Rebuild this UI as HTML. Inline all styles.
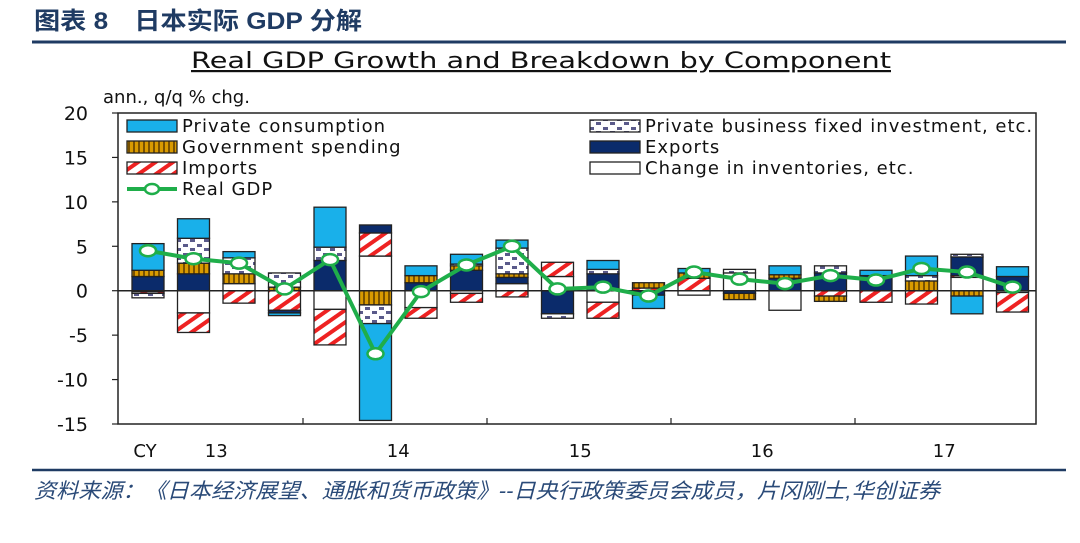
<!DOCTYPE html>
<html><head><meta charset="utf-8"><style>
body{margin:0;background:#fff;width:1080px;height:538px;overflow:hidden;font-family:"Liberation Sans","Noto Sans CJK SC",sans-serif}
</style></head><body>
<svg id="c" width="1080" height="538" xmlns="http://www.w3.org/2000/svg">
<defs>
<pattern id="pInv" width="14" height="9" patternUnits="userSpaceOnUse"><rect width="14" height="9" fill="#fff"/><rect x="1" y="1" width="5" height="3" fill="#5a5a8a"/><rect x="8" y="5" width="5" height="3" fill="#5a5a8a"/></pattern>
<pattern id="pGov" width="5" height="10" patternUnits="userSpaceOnUse"><rect width="5" height="10" fill="#d99a00"/><rect x="3" width="2" height="10" fill="#7a5200"/></pattern>
<pattern id="pImp" width="10" height="10" patternUnits="userSpaceOnUse" patternTransform="rotate(-35)"><rect width="10" height="10" fill="#fff"/><rect width="10" height="4" fill="#ee2222"/></pattern>
</defs>
<text x="34" y="29" font-size="24" font-weight="bold" fill="#1f3b63" textLength="328" lengthAdjust="spacingAndGlyphs">图表 8　日本实际 GDP 分解</text>
<line x1="32" y1="42" x2="1066" y2="42" stroke="#1f3b63" stroke-width="3"/>
<text x="541" y="68" font-size="22" text-anchor="middle" fill="#111" text-decoration="underline" font-family="DejaVu Sans, sans-serif" textLength="700" lengthAdjust="spacingAndGlyphs">Real GDP Growth and Breakdown by Component</text>
<text x="103" y="103" font-size="18" fill="#111" font-family="DejaVu Sans, sans-serif">ann., q/q % chg.</text>
<g id="plot"></g>
<line x1="32" y1="470" x2="1066" y2="470" stroke="#1f3b63" stroke-width="2.5"/>
<text x="34" y="498" font-size="21" font-style="italic" fill="#2a4a78" textLength="906" lengthAdjust="spacingAndGlyphs">资料来源：《日本经济展望、通胀和货币政策》--日央行政策委员会成员，片冈刚士,华创证券</text>
</svg>
<script>
const quarters=["13Q1","13Q2","13Q3","13Q4","14Q1","14Q2","14Q3","14Q4","15Q1","15Q2","15Q3","15Q4","16Q1","16Q2","16Q3","16Q4","17Q1","17Q2","17Q3","17Q4"];
const consumption=[3.0,2.2,0.7,-0.3,4.5,-10.9,1.1,1.1,0.9,0,1.0,-1.5,0.5,0,1.0,0,0.6,2.2,-2.0,1.1];
const businessInv=[-0.5,2.8,1.8,1.6,1.5,-2.1,0,0.2,2.9,-0.5,0.5,0,0,0.4,0,0.8,0,0.6,0.3,0];
const government=[0.7,1.2,1.1,0.4,0,-1.6,0.8,0.5,0.4,0,0,0.6,0.6,-0.7,0.4,-0.6,0,1.1,-0.6,0];
const exportsC=[1.6,1.9,0,-0.3,3.4,0.9,0.9,2.3,0.7,-2.6,1.9,-0.5,0,-0.3,1.4,2.0,1.7,0,2.1,1.6];
const imports=[-0.2,-2.2,-1.4,-2.2,-4.0,2.6,-1.2,-1.0,-0.7,1.6,-1.8,0.3,1.4,0,0,-0.6,-1.3,-1.5,0.2,-2.2];
const inventories=[-0.1,-2.5,0.8,0,-2.1,3.9,-1.9,-0.3,0.8,1.6,-1.3,0,-0.5,2.0,-2.2,0,0,0,1.5,-0.2];
const realGDP=[4.5,3.6,3.1,0.2,3.5,-7.1,-0.1,2.9,5.0,0.2,0.4,-0.6,2.1,1.3,0.8,1.7,1.2,2.5,2.1,0.4];
const yTicks=[20,15,10,5,0,-5,-10,-15];
const yearLabels=["13","14","15","16","17"];

const NS="http://www.w3.org/2000/svg";
const g=document.getElementById('plot');
const FONT="DejaVu Sans, sans-serif";
const X0=118,X1=1036,Y20=113,Y15=424;
const y=v=>Y20+(20-v)*(Y15-Y20)/35;
const xc=i=>148+i*45.5;
const BW=32;
function mk(t,a,p){const e=document.createElementNS(NS,t);for(const k in a)e.setAttribute(k,a[k]);(p||g).appendChild(e);return e;}

const frame=mk('rect',{x:X0,y:Y20,width:X1-X0,height:Y15-Y20,fill:'none',stroke:'#222','stroke-width':1.5});


yTicks.forEach(v=>{
  mk('line',{x1:X0-6,x2:X0,y1:y(v),y2:y(v),stroke:'#222','stroke-width':1.2});
  const t=mk('text',{x:X0-30,y:y(v)+7,'font-size':19,'text-anchor':'end',fill:'#111','font-family':FONT});
  t.textContent=v;
  
  
});
for(let k=1;k<5;k++){const tx=303+(k-1)*184;mk('line',{x1:tx,x2:tx,y1:Y15-6,y2:Y15,stroke:'#222','stroke-width':1.2});}
const cy=mk('text',{x:145,y:457,'font-size':18,'text-anchor':'middle',fill:'#111','font-family':FONT});cy.textContent='CY';


yearLabels.forEach((l,k)=>{
  const xx=xc(k*4+1.5);
  const t=mk('text',{x:xx,y:457,'font-size':18,'text-anchor':'middle',fill:'#111','font-family':FONT});
  t.textContent=l;
  
  
});

const comps=[
 {d:inventories,f:'#fff',n:'inventories'},
 {d:imports,f:'url(#pImp)',n:'imports'},
 {d:exportsC,f:'#0b2b6b',n:'exports'},
 {d:government,f:'url(#pGov)',n:'government'},
 {d:businessInv,f:'url(#pInv)',n:'business-investment'},
 {d:consumption,f:'#19b0ea',n:'consumption'}];
quarters.forEach((q,i)=>{
  let pos=0,neg=0;
  comps.forEach(c=>{
    const v=c.d[i]; if(!v)return;
    let a,b;
    if(v>0){a=pos;b=pos+v;pos=b;}else{a=neg;b=neg+v;neg=b;}
    const r=mk('rect',{x:xc(i)-BW/2,y:y(Math.max(a,b)),width:BW,height:Math.abs(y(a)-y(b)),fill:c.f,stroke:'#222','stroke-width':1.3});
    
    
  });
});
mk('line',{x1:X0,x2:X1,y1:y(0),y2:y(0),stroke:'#222','stroke-width':1.5});

const pts=realGDP.map((v,i)=>xc(i)+','+y(v)).join(' ');
const pl=mk('polyline',{points:pts,fill:'none',stroke:'#1fae4a','stroke-width':4});


realGDP.forEach((v,i)=>{
  const e=mk('ellipse',{cx:xc(i),cy:y(v),rx:8,ry:5.5,fill:'#fff',stroke:'#1fae4a','stroke-width':2.5});
  
  
});

const leg=[
 [127,126,'#19b0ea','Private consumption','rect'],
 [590,126,'url(#pInv)','Private business fixed investment, etc.','rect'],
 [127,147,'url(#pGov)','Government spending','rect'],
 [590,147,'#0b2b6b','Exports','rect'],
 [127,168,'url(#pImp)','Imports','rect'],
 [590,168,'#fff','Change in inventories, etc.','rect'],
 [127,189,'','Real GDP','line']];
leg.forEach(l=>{
  const gg=mk('g',{});
  
  
  if(l[4]==='rect') mk('rect',{x:l[0],y:l[1]-6,width:50,height:12,fill:l[2],stroke:'#222','stroke-width':1.3},gg);
  else{mk('line',{x1:l[0],x2:l[0]+50,y1:l[1],y2:l[1],stroke:'#1fae4a','stroke-width':4},gg);mk('ellipse',{cx:l[0]+25,cy:l[1],rx:7,ry:5,fill:'#fff',stroke:'#1fae4a','stroke-width':2.5},gg);}
  const t=mk('text',{x:l[0]+55,y:l[1]+6,'font-size':18,'letter-spacing':1,fill:'#111','font-family':FONT},gg);t.textContent=l[3];
});
</script>
</body></html>
